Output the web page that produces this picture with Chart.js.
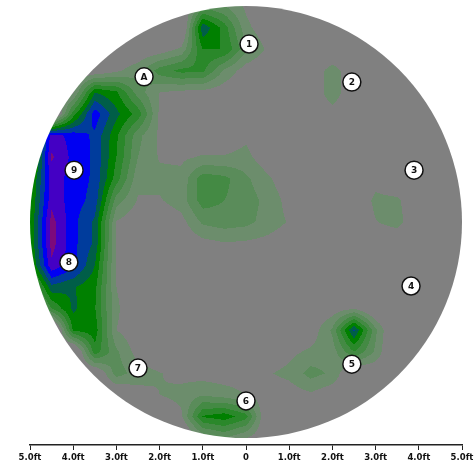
<!DOCTYPE html>
<html>
<head>
<meta charset="utf-8">
<script src="https://cdn.jsdelivr.net/npm/chart.js@4.4.1/dist/chart.umd.min.js"></script>
<style>
  html, body { margin: 0; padding: 0; background: #ffffff; }
  canvas { display: block; }
</style>
</head>
<body>
<canvas id="floor" width="476" height="462"></canvas>
<script>
// Survey grid (ft). Columns run west to east, rows run north to south.
const gridX = [-5, -4.5, -4, -3.5, -3, -2.5, -2, -1.5, -1, -0.5, 0, 0.5, 1, 1.5, 2, 2.5, 3, 3.5, 4, 4.5, 5];
const gridY = [5, 4.5, 4, 3.5, 3, 2.5, 2, 1.5, 1, 0.5, 0, -0.5, -1, -1.5, -2, -2.5, -3, -3.5, -4, -4.5, -5];

// Measured loss level at every grid node (one row per gridY value).
const lossGrid = [
  [0, 0, 0, 0, 0, 0, 0, -0.5, 2.5, 2.0, 0.8, 0, 0, 0, 0, 0, 0, 0, 0, 0, 0],
  [0, 0, 0, 0, 0, 0, -0.5, -1, 6.8, 4.5, 1.3, 0.2, 0, 0, 0, 0, 0, 0, 0, 0, 0],
  [0, 0, 0, 0, 0, 0, 0.3, 1.2, 5.0, 5.0, 2.2, 0.8, -0.3, 0, -0.5, 0, 0, 0, 0, 0, 0],
  [0, 0, 0, 0, 0.8, 1.6, 3.5, 4.3, 4.2, 1.8, 0.4, 0, 0, 0, 1.6, 0, 0, 0, 0, 0, 0],
  [0, 0, 0.8, 6.0, 5.2, 2.5, 1.0, 0.7, 0.6, 0.3, 0, 0, 0, 0, 1.7, 0, 0, 0, 0, 0, 0],
  [0, -2, 4.5, 8.6, 6.3, 4.6, 0.8, 0.3, 0, 0, 0.2, 0, 0, 0, 0.5, 0, 0, 0, 0, 0, 0],
  [3, 9.5, 8.6, 7.8, 5.2, 2.3, 0.8, 0.5, 0.2, 0.2, 0.8, 0, 0, 0, 0, 0, 0, 0, 0, 0, 0],
  [3, 10.15, 8.7, 7.8, 5.0, 2.0, 0.9, 0.8, 1.1, 1.1, 1.3, 0.3, 0, 0, 0, 0, 0, 0, 0, 0, 0],
  [4.5, 9.5, 8.6, 7.8, 4.5, 1.3, 1.3, 1.3, 3.6, 3.3, 2.2, 1.2, 0.2, 0, 0, 0, 0.6, 0, 0, 0, 0],
  [4.8, 9.7, 8.5, 7.6, 2.5, 0.9, 0.9, 1.5, 3.5, 3.0, 2.5, 1.7, 0.6, 0, 0, 0, 1.25, 1.2, 0, 0, 0],
  [5.0, 10.4, 8.3, 6.8, 0.9, 0.2, 0.1, 0.6, 2.2, 2.5, 2.3, 1.6, 0.9, 0, 0, 0, 0.95, 1.4, 0, 0, 0],
  [5.0, 10.4, 8.3, 6.8, 0.8, 0, 0, 0.1, 0.6, 0.9, 0.8, 0.6, 0.2, 0, 0, 0, 0, 0, 0, 0, 0],
  [4.5, 9.8, 8.4, 6.0, 0.8, 0, 0, 0, 0, 0, 0, 0, 0, 0, 0, 0, 0, 0, 0, 0, 0],
  [2, 6.7, 6.1, 5.3, 1.0, 0, 0, 0, 0, 0, 0, 0, 0, 0, 0, 0, 0, 0, 0, 0, 0],
  [0, 4.0, 6.2, 5.1, 1.2, 0, 0, 0, 0, 0, 0, 0, 0, 0, 0.3, 0.9, -0.5, 0, 0, 0, 0],
  [0, -2.5, 5.2, 5.6, 1.0, 0.2, 0, 0, 0, 0, 0, 0, 0, 0.3, 2.2, 7.2, 2.2, -1, 0, 0, 0],
  [0, 0, -1.5, 4.6, 2.2, 0.5, 0, 0, 0, 0, 0, 0, 0.7, 1.2, 1.5, 4.0, 1.8, -1, 0, 0, 0],
  [0, 0, 0, -0.5, 2.5, 1.5, 1.05, 0.7, 0.5, 0.4, 0.4, 0.9, 1.3, 2.4, 1.8, -0.5, 0, 0, 0, 0, 0],
  [0, 0, 0, 0, -0.5, 0.6, 1.0, 1.3, 1.9, 1.5, 1.0, 0.3, 0.4, 0.8, 0.2, 0, 0, 0, 0, 0, 0],
  [0, 0, 0, 0, 0, -1, 0, 0.8, 5.1, 5.6, 4.4, -0.5, 0, 0, 0, 0, 0, 0, 0, 0, 0],
  [0, 0, 0, 0, 0, 0, 0, -1, 1.2, 2.0, 1.0, 0, 0, 0, 0, 0, 0, 0, 0, 0, 0]
];

// Fill colour of each contour band, from band 0 (no loss) upward.
const levelColors = [
  '#808080', '#6c8d6c', '#5a8c5a', '#448a44', '#2a882a', '#008000',
  '#005e48', '#003c9c', '#0000f2', '#4400c4', '#7c0a7c'
];

// Reference points around the shell.
const markerLabels = ['1', '2', '3', '4', '5', '6', '7', '8', '9', 'A'];
const markerX = [0.07, 2.45, 3.89, 3.82, 2.45, 0.0, -2.50, -4.10, -3.98, -2.36];
const markerY = [4.12, 3.24, 1.20, -1.48, -3.29, -4.14, -3.38, -0.93, 1.20, 3.36];

const tickValues = [-5, -4, -3, -2, -1, 0, 1, 2, 3, 4, 5];
const floorRadius = 5;

function hexToRgb(h) {
  const n = parseInt(h.slice(1), 16);
  return [(n >> 16) & 255, (n >> 8) & 255, n & 255];
}

// Bilinear sample of the grid at (x, y) in ft.
function sampleLoss(x, y) {
  const dx = gridX[1] - gridX[0];
  const dy = gridY[0] - gridY[1];
  let i = Math.floor((x - gridX[0]) / dx);
  let j = Math.floor((gridY[0] - y) / dy);
  i = Math.max(0, Math.min(gridX.length - 2, i));
  j = Math.max(0, Math.min(gridY.length - 2, j));
  const t = (x - gridX[i]) / dx;
  const u = (gridY[j] - y) / dy;
  const a = lossGrid[j][i], b = lossGrid[j][i + 1];
  const c = lossGrid[j + 1][i], d = lossGrid[j + 1][i + 1];
  return (a * (1 - t) + b * t) * (1 - u) + (c * (1 - t) + d * t) * u;
}

const contourPlugin = {
  id: 'floorContour',
  beforeDatasetsDraw(chart) {
    const { ctx } = chart;
    const xs = chart.scales.x, ys = chart.scales.y;
    const cx = xs.getPixelForValue(0), cy = ys.getPixelForValue(0);
    const r = xs.getPixelForValue(floorRadius) - cx;
    const x0 = Math.floor(cx - r), y0 = Math.floor(cy - r);
    const w = Math.ceil(2 * r) + 2, h = w;
    const off = document.createElement('canvas');
    off.width = w; off.height = h;
    const octx = off.getContext('2d');
    const img = octx.createImageData(w, h);
    const rgb = levelColors.map(hexToRgb);
    const top = levelColors.length - 1;
    for (let j = 0; j < h; j++) {
      const vy = ys.getValueForPixel(y0 + j + 0.5);
      for (let i = 0; i < w; i++) {
        const vx = xs.getValueForPixel(x0 + i + 0.5);
        const v = sampleLoss(vx, vy);
        const lv = Math.max(0, Math.min(top, Math.floor(v)));
        const col = rgb[lv];
        const k = (j * w + i) * 4;
        img.data[k] = col[0]; img.data[k + 1] = col[1]; img.data[k + 2] = col[2]; img.data[k + 3] = 255;
      }
    }
    octx.putImageData(img, 0, 0);
    ctx.save();
    ctx.beginPath();
    ctx.arc(cx, cy, r, 0, Math.PI * 2);
    ctx.clip();
    ctx.drawImage(off, x0, y0);
    ctx.restore();
  },
  afterDatasetsDraw(chart) {
    const { ctx } = chart;
    const meta = chart.getDatasetMeta(0);
    ctx.save();
    ctx.fillStyle = '#111111';
    ctx.font = 'bold 9px "DejaVu Sans"';
    ctx.textAlign = 'center';
    ctx.textBaseline = 'middle';
    meta.data.forEach((pt, i) => {
      ctx.fillText(markerLabels[i], pt.x, pt.y + 0.5);
    });
    ctx.restore();
  }
};

new Chart(document.getElementById('floor'), {
  type: 'scatter',
  data: {
    datasets: [{
      data: markerX.map((x, i) => ({ x, y: markerY[i] })),
      pointRadius: 9,
      pointHoverRadius: 9,
      pointBackgroundColor: '#ffffff',
      pointBorderColor: '#111111',
      pointBorderWidth: 1.5,
      clip: false
    }]
  },
  options: {
    responsive: false,
    animation: false,
    devicePixelRatio: 1,
    layout: { autoPadding: false, padding: { left: 30, right: 14, top: 6, bottom: 0 } },
    plugins: { legend: { display: false }, tooltip: { enabled: false } },
    events: [],
    scales: {
      x: {
        type: 'linear',
        position: 'bottom',
        min: -5,
        max: 5,
        afterBuildTicks(scale) { scale.ticks = tickValues.map(v => ({ value: v })); },
        afterFit(scale) { scale.height = 17; scale.paddingLeft = 0; scale.paddingRight = 0; },
        ticks: {
          autoSkip: false,
          maxRotation: 0,
          padding: 3,
          color: '#111111',
          font: { family: '"DejaVu Sans"', size: 8.5, weight: 'bold' },
          callback: v => (v === 0 ? '0' : Math.abs(v).toFixed(1) + 'ft')
        },
        grid: { drawOnChartArea: false, drawTicks: true, tickLength: 5, color: '#222222', lineWidth: 1 },
        border: { display: true, color: '#222222', width: 1.5 }
      },
      y: {
        type: 'linear',
        display: false,
        min: -5.16,
        max: 5
      }
    }
  },
  plugins: [contourPlugin]
});
</script>
</body>
</html>
